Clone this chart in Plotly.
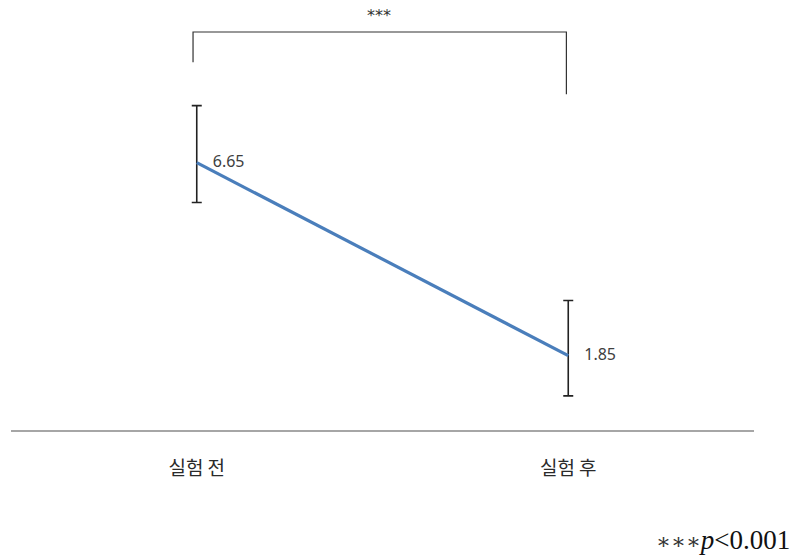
import plotly.graph_objects as go

# Mean scores before/after the experiment
categories = ["실험 전", "실험 후"]
means = [6.65, 1.85]
err_plus = [1.42, 1.37]
err_minus = [0.99, 1.0]
value_labels = ["6.65", "1.85"]

xpos = list(range(len(categories)))

fig = go.Figure()
fig.add_trace(go.Scatter(
    x=xpos, y=means,
    mode="lines+markers+text",
    text=value_labels,
    textposition="middle right",
    textfont=dict(family="Noto Sans, DejaVu Sans, sans-serif", size=16, color="#404040"),
    marker=dict(size=24, color="rgba(0,0,0,0)"),
    line=dict(color="#4a7ebb", width=3.2),
    error_y=dict(type="data", symmetric=False, array=err_plus, arrayminus=err_minus,
                 color="#222222", thickness=1.6, width=5),
    cliponaxis=False,
    showlegend=False,
))

# Significance bracket between the two conditions
br_y = 9.9
fig.add_shape(type="path", xref="x", yref="y",
              path=f"M -0.01 {br_y - 0.75} L -0.01 {br_y} L 0.995 {br_y} L 0.995 {br_y - 1.55}",
              line=dict(color="#333333", width=1.2))
fig.add_annotation(x=0.49, y=br_y + 0.42, xref="x", yref="y", text="***",
                   showarrow=False, font=dict(family="DejaVu Sans, sans-serif", size=16, color="#333333"))

fig.add_annotation(x=1.0, y=0.0, xref="paper", yref="paper", xanchor="right", yanchor="bottom",
                   xshift=38, yshift=-127,
                   text="<span style='font-family:DejaVu Serif;font-size:22px;color:#333'>∗∗∗</span><i>p</i><0.001",
                   showarrow=False,
                   font=dict(family="Liberation Serif, Times New Roman, serif", size=27, color="#111111"))

fig.update_layout(
    width=792, height=555,
    margin=dict(l=11, r=38, t=0, b=125),
    paper_bgcolor="white", plot_bgcolor="white",
    xaxis=dict(range=[-0.5, 1.5], tickvals=xpos, ticktext=categories,
               showgrid=False, zeroline=False, showline=True, linecolor="#a6a6a6", linewidth=2,
               ticks="", ticklabelstandoff=20,
               tickfont=dict(family="Noto Sans CJK KR, sans-serif", size=19, color="#2a2a2a")),
    yaxis=dict(range=[0, 430 / 40.2], visible=False, showgrid=False, zeroline=False),
)

fig.write_html("out.html")
